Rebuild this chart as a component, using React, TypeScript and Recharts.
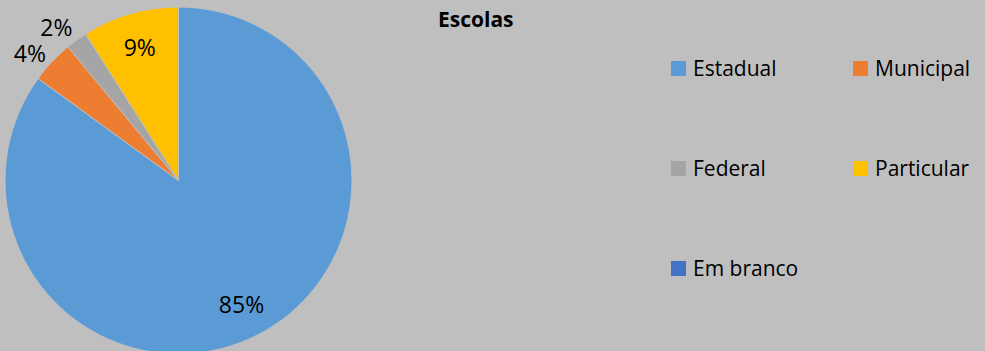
import { Cell, Pie, PieChart } from "recharts";

const categories = ["Estadual", "Municipal", "Federal", "Particular", "Em branco"];
const shares = [85, 4, 2, 9, 0];
const colors = ["#5B9BD5", "#ED7D31", "#A5A5A5", "#FFC000", "#4472C4"];

const data = categories.map((name, i) => ({ name, value: shares[i] }));

const FONT = "'Open Sans', 'Liberation Sans', sans-serif";
const RAD = Math.PI / 180;

function renderLabel(props: any) {
  const { cx, cy, midAngle, outerRadius, value } = props;
  if (!value) return null;
  // small slices get their label outside, nudged a bit like Excel's best fit
  const inside = value >= 5;
  const k = inside ? 0.8 : 1.13;
  const a = inside ? midAngle : midAngle + 2.5;
  const x = cx + outerRadius * k * Math.cos(-a * RAD);
  const y = cy + outerRadius * k * Math.sin(-a * RAD);
  return (
    <text
      x={x}
      y={y}
      textAnchor="middle"
      dominantBaseline="central"
      fill="#000"
      fontSize={23}
      fontFamily={FONT}
    >
      {`${value}%`}
    </text>
  );
}

export default function App() {
  return (
    <div style={{ position: "absolute", left: 0, top: 0, width: 985, height: 351, background: "#BFBFBF", overflow: "hidden" }}>
      <PieChart width={985} height={351} margin={{ top: 0, right: 0, bottom: 0, left: 0 }}>
        <Pie
          data={data}
          dataKey="value"
          nameKey="name"
          cx={178.5}
          cy={180.5}
          outerRadius={173.5}
          startAngle={90}
          endAngle={-270}
          stroke="#BFBFBF"
          strokeWidth={1}
          label={renderLabel}
          labelLine={false}
          isAnimationActive={false}
        >
          {data.map((d, i) => (
            <Cell key={d.name} fill={colors[i]} />
          ))}
        </Pie>
      </PieChart>

      <div
        style={{
          position: "absolute",
          left: 438,
          top: 4,
          fontFamily: FONT,
          fontWeight: "bold",
          fontSize: 21,
          color: "#000",
          lineHeight: "30px",
        }}
      >
        Escolas
      </div>

      {/* legend: two columns, rows 100px apart */}
      {data.map((d, i) => (
        <div
          key={d.name}
          style={{
            position: "absolute",
            left: i % 2 === 0 ? 671 : 853,
            top: 53 + Math.floor(i / 2) * 100,
            height: 30,
            display: "flex",
            alignItems: "center",
            fontFamily: FONT,
            fontSize: 21,
            color: "#000",
            whiteSpace: "nowrap",
          }}
        >
          <span style={{ width: 15, height: 15, background: colors[i], marginRight: 7, display: "inline-block" }} />
          <span>{d.name}</span>
        </div>
      ))}
    </div>
  );
}
